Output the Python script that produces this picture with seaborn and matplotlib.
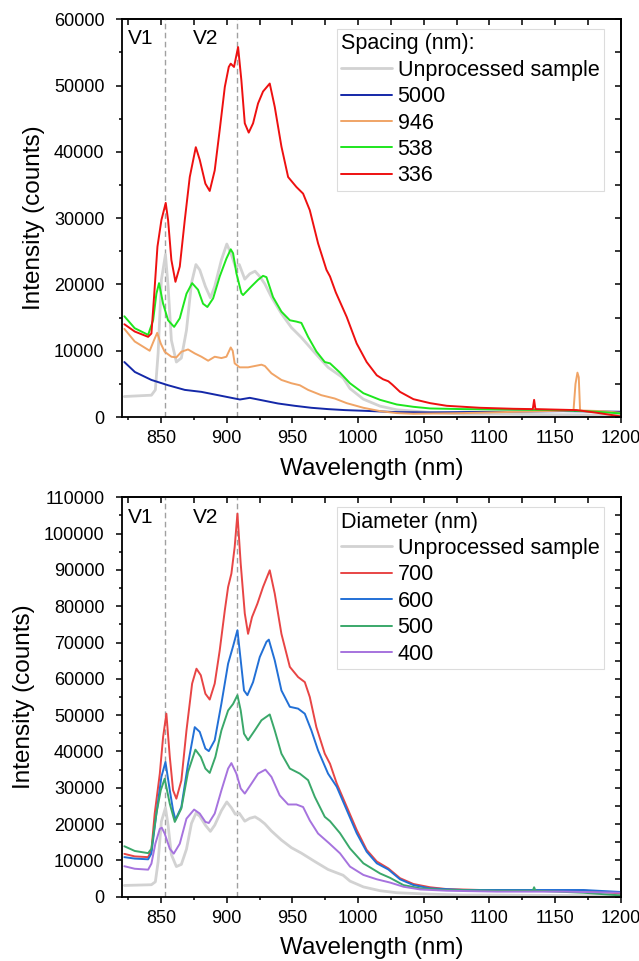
"""
Espectros de fotoluminiscencia: espaciado y diámetro
"""

import pandas as pd
import matplotlib
matplotlib.use('Agg')
import matplotlib.pyplot as plt
from matplotlib.ticker import MultipleLocator
import seaborn as sns

sns.set_theme(style='ticks')
plt.rcParams['font.family'] = ['Liberation Sans', 'DejaVu Sans']
plt.rcParams['text.color'] = 'black'
plt.rcParams['axes.labelcolor'] = 'black'

# ──────────────────────────────────────────────────────────────────────────────
# DATOS
# ──────────────────────────────────────────────────────────────────────────────
WL_UNPROC = [822, 842.6, 845.6, 847.7, 850.2, 853.3, 855.3, 857.8, 861.6, 865.4,
             869.3, 873.1, 876.5, 879.4, 883.7, 887.5, 890.8, 895.9, 900, 903.5,
             906.5, 909.5, 913.7, 917.5, 921.5, 925.1, 928.9, 934, 941.6, 949.2,
             956.8, 967, 977.1, 988.6, 993.8, 1004, 1016.7, 1029.4, 1054.8, 1080,
             1105.6, 1150, 1200]
I_UNPROC = [3100, 3300, 4100, 9600, 20700, 24500, 19700, 11600, 8300, 8900,
            13100, 20200, 23000, 22200, 19700, 18000, 19700, 23700, 26100, 24500,
            22700, 23000, 20800, 21600, 22000, 21200, 20100, 18100, 15600, 13500,
            12000, 9700, 7500, 5900, 4300, 2700, 1650, 1100, 700, 450,
            450, 350, 300]

# Panel superior: espaciado (nm)
WL_S5000 = [822, 830, 842.6, 855.3, 868, 880.7, 893.4, 904.8, 910, 917.5, 926.4,
            939, 951.7, 964.4, 977.1, 990, 1004, 1029, 1055, 1105, 1156, 1200]
I_S5000 = [8300, 6800, 5600, 4800, 4100, 3800, 3300, 2850, 2650, 2900, 2550,
           2050, 1700, 1400, 1200, 1050, 950, 750, 700, 800, 900, 800]

WL_S946 = [822, 829.9, 841.3, 844.6, 847, 849.7, 852.7, 857.8, 861.6, 865.4,
           870.5, 875.6, 880.7, 885.8, 890.8, 895.9, 899.7, 903, 904.5, 906,
           909.8, 916.2, 926.4, 929, 934, 941.6, 949.2, 955.6, 961.9, 972,
           982.2, 991.3, 1004, 1016.7, 1029.4, 1042, 1080, 1120, 1164, 1165.5,
           1167, 1168, 1169, 1185, 1200]
I_S946 = [13300, 11400, 10000, 11600, 12700, 11100, 9850, 9100, 9000, 9850,
          10200, 9600, 9100, 8500, 9100, 8900, 9100, 10500, 10000, 8100,
          7500, 7500, 7900, 7700, 6600, 5600, 5100, 4800, 4100, 3300,
          2800, 2100, 1400, 900, 600, 500, 600, 800, 1000, 5000,
          6700, 6000, 1000, 900, 650]

WL_S538 = [822, 829.9, 840.1, 843.9, 846.4, 848.4, 851.5, 855.3, 859.9, 864.2,
           869.3, 873.6, 878.1, 881.9, 885.2, 889.6, 894.6, 899.7, 903, 904.8,
           907.3, 911.1, 912.4, 918.7, 923.8, 927.6, 930.2, 935.2, 941.6, 948,
           953, 956.8, 961.9, 968.2, 974.6, 978.6, 986.2, 993.8, 1004, 1016.7,
           1029.4, 1042, 1054.8, 1080, 1105.6, 1131, 1156.3, 1181.7, 1200]
I_S538 = [15200, 13400, 12400, 14600, 18600, 20200, 17100, 14600, 13600, 14900,
          18600, 20200, 19200, 17100, 16600, 17900, 21200, 23900, 25300, 24700,
          21700, 18700, 18400, 19700, 20700, 21300, 21100, 18100, 15900, 14600,
          14400, 14200, 12100, 9900, 8300, 8100, 6700, 5100, 3600, 2600,
          1900, 1550, 1300, 1200, 1150, 1100, 1050, 800, 550]

WL_S336 = [822, 829.9, 840.1, 842.6, 844.6, 847.2, 850.2, 853.5, 855.3, 857.8,
           860.9, 864.2, 868, 871.8, 876.4, 879.4, 883.7, 887, 890.8, 894.6,
           898.5, 901.5, 903, 905.5, 908.6, 911.1, 913.7, 916.7, 920, 923.8,
           927.6, 932.7, 936.5, 941.6, 946.7, 953, 958.1, 963.2, 969.5, 975.9,
           978.6, 983, 991.3, 998.9, 1006.5, 1014.2, 1019, 1023, 1026, 1031.9,
           1042.1, 1054.8, 1067.5, 1092.9, 1118.2, 1133, 1134, 1135, 1166.5,
           1181.7, 1200]
I_S336 = [14000, 12900, 12100, 12600, 18100, 25700, 29700, 32300, 29700, 23700,
          20400, 22700, 29700, 36200, 40700, 38800, 35200, 34100, 37200, 43300,
          49800, 52800, 53300, 52800, 55800, 50800, 44300, 42900, 44300, 47300,
          49100, 50300, 46800, 40800, 36200, 34700, 33700, 31200, 26200, 22200,
          21200, 18800, 15100, 11100, 8300, 6300, 5700, 5400, 4900, 3800,
          2700, 2100, 1700, 1400, 1250, 1200, 2600, 1200, 1050,
          650, 100]

# Panel inferior: diámetro (nm)
WL_D700 = [822, 829.9, 840.1, 842.6, 845.1, 849, 851.5, 854, 856.6, 859.1,
           861.6, 865.4, 869.3, 873.6, 876.9, 880.2, 883.7, 887, 890.8, 894.6,
           898.5, 901, 903.5, 906, 908.1, 910.6, 913.7, 916.2, 919.2, 923.3,
           927.6, 932.7, 936.5, 941.6, 948, 954.3, 959.4, 963.2, 968.2, 974.6,
           978.6, 983.7, 991.3, 998.9, 1006.5, 1014.2, 1023, 1031.9, 1042.1,
           1054.8, 1067.5, 1092.9, 1131, 1171.6, 1200]
I_D700 = [11800, 11100, 10900, 12800, 22900, 33900, 44000, 50400, 38500, 29300,
          27000, 32000, 45800, 58700, 62800, 61000, 55900, 54300, 58700, 67800,
          78900, 85300, 89000, 96300, 105500, 91700, 78000, 72400, 77000, 80700,
          85300, 89900, 83500, 72400, 63300, 60500, 59100, 55000, 46700, 39400,
          36600, 31200, 24800, 18400, 12900, 9700, 7800, 5100, 3500,
          2600, 2100, 1850, 1700, 1700, 900]

WL_D600 = [822, 829.9, 840.1, 842.6, 846.4, 850.2, 853.3, 856.6, 859.1, 860.9,
           865.4, 870.5, 875.6, 879.4, 883.7, 886.3, 890.8, 895.9, 901, 904.8,
           908.1, 910.6, 913.1, 915.7, 920, 925.1, 930.2, 932, 936.5, 941.6,
           948, 954.3, 959.4, 964.4, 969.5, 977.1, 983.7, 991.3, 998.9, 1006.5,
           1014.2, 1023, 1031.9, 1042.1, 1054.8, 1080, 1131, 1171.6, 1200]
I_D600 = [10900, 10500, 10300, 11900, 22900, 33000, 37100, 29300, 23800, 21200,
          24700, 36600, 46700, 45400, 40800, 40100, 43100, 53200, 64200, 69000,
          73400, 65100, 56800, 55500, 59100, 66000, 70200, 70800, 65100, 56800,
          52300, 51800, 50400, 45800, 40300, 33900, 30300, 23900, 17500, 12400,
          9200, 7500, 4800, 3200, 2300, 1850, 1850, 1850, 1300]

WL_D500 = [822, 829.9, 840.1, 842.6, 846.4, 849.7, 852.7, 856.6, 860.4, 865.4,
           870.5, 876.1, 880.2, 883.7, 887, 891.3, 895.9, 901, 904.8, 908.1,
           910.6, 913.1, 916.2, 921.3, 926.4, 932.7, 936.5, 941.6, 948, 955.6,
           961.9, 967, 974.6, 978.6, 986.2, 993.8, 1004, 1016.7, 1024.3, 1034.5,
           1047.2, 1067.5, 1105.6, 1133, 1134, 1135, 1171.6, 1200]
I_D500 = [13900, 12600, 12000, 13200, 22900, 29300, 32500, 25600, 20600, 24300,
          34400, 40500, 38500, 35300, 34100, 38500, 45800, 51300, 53100, 55500,
          51300, 44900, 43100, 45800, 48600, 50200, 45800, 39400, 35300, 33900,
          32100, 27500, 22000, 20800, 17500, 13300, 9200, 6400, 5200, 3200,
          2300, 1850, 1650, 1650, 2600, 1650, 1100, 350]

WL_D400 = [822, 829.9, 840.1, 842.6, 845.6, 849, 850.5, 852.7, 856.6, 859.6,
           864.2, 869.3, 875.1, 879.4, 883.7, 886.3, 890.8, 895.9, 901, 903.5,
           907.3, 910.6, 913.7, 918.7, 923.8, 929.4, 934, 940.3, 946.7, 953,
           958.1, 963.2, 969.5, 978, 986.2, 993.8, 1004, 1014.2, 1024.3, 1034.5,
           1047.2, 1067.5, 1105.6, 1156.3, 1200]
I_D400 = [8400, 7700, 7450, 9100, 14600, 18700, 19000, 17400, 13200, 11850,
          14600, 21500, 24000, 22900, 20600, 20300, 22900, 29300, 35300, 36800,
          33900, 29800, 28400, 31100, 33900, 35000, 33000, 27900, 25400, 25400,
          24700, 21000, 17400, 14700, 11950, 8300, 6000, 4800, 3900, 2750,
          2000, 1650, 1400, 1400, 1100]

V1, V2 = 853, 908

GRIS = '#d2d2d2'
SERIES_TOP = [
    ('Unprocessed sample', WL_UNPROC, I_UNPROC, GRIS, 2.0),
    ('5000', WL_S5000, I_S5000, '#1428a8', 1.4),
    ('946', WL_S946, I_S946, '#f0a466', 1.4),
    ('538', WL_S538, I_S538, '#1ee61e', 1.4),
    ('336', WL_S336, I_S336, '#ee1010', 1.4),
]
SERIES_BOT = [
    ('Unprocessed sample', WL_UNPROC, I_UNPROC, GRIS, 2.0),
    ('700', WL_D700, I_D700, '#e84545', 1.4),
    ('600', WL_D600, I_D600, '#2270d6', 1.4),
    ('500', WL_D500, I_D500, '#3aa86a', 1.4),
    ('400', WL_D400, I_D400, '#a673de', 1.4),
]


# ──────────────────────────────────────────────────────────────────────────────
# GRÁFICAS
# ──────────────────────────────────────────────────────────────────────────────
def estilo_ejes(ax, ymax, ystep):
    ax.set_xlim(820, 1200)
    ax.set_ylim(0, ymax)
    ax.xaxis.set_major_locator(MultipleLocator(50))
    ax.xaxis.set_minor_locator(MultipleLocator(25))
    ax.yaxis.set_major_locator(MultipleLocator(ystep))
    ax.yaxis.set_minor_locator(MultipleLocator(ystep / 2))
    ax.tick_params(which='major', direction='out', length=4.5, width=1.1,
                   labelsize=13, color='black', labelcolor='black')
    ax.tick_params(which='minor', direction='out', length=2.5, width=1.1,
                   color='black')
    ax.tick_params(axis='x', pad=5)
    ax.tick_params(axis='y', pad=8)
    for s in ax.spines.values():
        s.set_linewidth(1.3)
        s.set_color('black')

    arriba = ax.secondary_xaxis('top')
    arriba.xaxis.set_major_locator(MultipleLocator(25))
    arriba.tick_params(direction='in', length=4.5, width=1.1, color='black',
                       labeltop=False, labelbottom=False)
    arriba.spines['top'].set_linewidth(1.3)
    derecha = ax.secondary_yaxis('right')
    derecha.yaxis.set_major_locator(MultipleLocator(ystep / 2))
    derecha.tick_params(direction='in', length=4.5, width=1.1, color='black',
                        labelright=False, labelleft=False)
    derecha.spines['right'].set_linewidth(1.3)

    ax.set_xlabel('Wavelength (nm)', fontsize=17.5, color='black', labelpad=7.5)
    ax.set_ylabel('Intensity (counts)', fontsize=17.5, color='black',
                  labelpad=6)


def panel(ax, series, titulo, ymax, ystep, y_txt):
    for nombre, wl, inten, color, lw in series:
        df = pd.DataFrame({'wl': wl, 'intensidad': inten})
        sns.lineplot(data=df, x='wl', y='intensidad', color=color, lw=lw,
                     estimator=None, errorbar=None, label=nombre, ax=ax)

    for v in (V1, V2):
        ax.axvline(v, color='#a0a0a0', lw=1.0, ls=(0, (4, 2.5)), zorder=0.5)
    ax.text(825, y_txt, 'V1', fontsize=15, ha='left', va='baseline',
            color='black')
    ax.text(874.5, y_txt, 'V2', fontsize=15, ha='left', va='baseline',
            color='black')

    estilo_ejes(ax, ymax, ystep)

    handles, labels = ax.get_legend_handles_labels()
    leg = ax.legend(handles, labels, title=titulo, loc='upper left',
                    bbox_to_anchor=(0.4315, 0.975), fontsize=15.5,
                    title_fontsize=15.5, frameon=True, fancybox=False,
                    edgecolor='#dcdcdc', framealpha=1, borderpad=0.2,
                    handlelength=2.33, handletextpad=0.28, labelspacing=0.25,
                    borderaxespad=0, alignment='left', labelcolor='black')
    leg.get_title().set_color('black')
    leg.get_frame().set_linewidth(0.8)


fig = plt.figure(figsize=(6.39, 9.61), dpi=100)
ax_top = fig.add_axes([0.1905, 0.566, 0.781, 0.414])
ax_bot = fig.add_axes([0.1905, 0.0669, 0.781, 0.4156])

panel(ax_top, SERIES_TOP, 'Spacing (nm):', 60000, 10000, 56300)
panel(ax_bot, SERIES_BOT, 'Diameter (nm)', 110000, 10000, 102900)

fig.savefig('out.png', dpi=100, facecolor='white')
plt.close(fig)
